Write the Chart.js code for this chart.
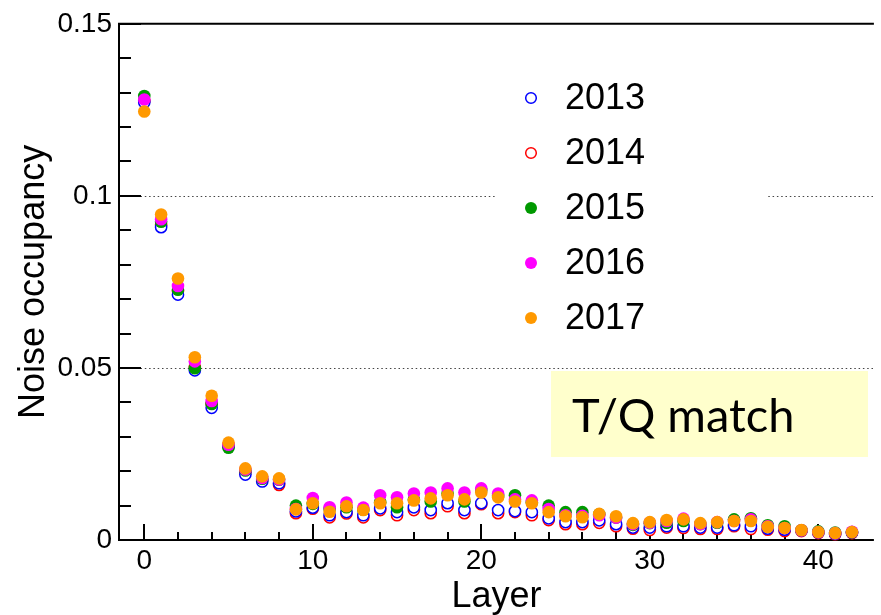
<!DOCTYPE html>
<html>
<head>
<meta charset="utf-8">
<title>Noise occupancy per layer</title>
<script src="https://cdn.jsdelivr.net/npm/chart.js@4/dist/chart.umd.min.js"></script>
<style>
  html, body { margin: 0; padding: 0; background: #ffffff; }
  #wrap { width: 881px; height: 615px; position: relative; }
</style>
</head>
<body>
<div id="wrap"><canvas id="chart" width="881" height="615"></canvas></div>
<script>
// Layer index (x axis)
const layers = [0,1,2,3,4,5,6,7,8,9,10,11,12,13,14,15,16,17,18,19,20,21,22,23,24,25,26,27,28,29,30,31,32,33,34,35,36,37,38,39,40,41,42];

// Noise occupancy per layer, one array per run year
const occ2013 = [0.1272,0.0909,0.0713,0.0493,0.0384,0.0272,0.0190,0.0170,0.0165,0.0083,0.0094,0.0072,0.0081,0.0072,0.0092,0.0081,0.0095,0.0087,0.0107,0.0087,0.0107,0.0087,0.0084,0.0081,0.0063,0.0052,0.0052,0.0057,0.0046,0.0036,0.0036,0.0040,0.0040,0.0036,0.0036,0.0043,0.0040,0.0033,0.0030,0.0028,0.0022,0.0018,0.0022];
const occ2014 = [0.1276,0.0915,0.0724,0.0502,0.0395,0.0275,0.0197,0.0174,0.0160,0.0078,0.0091,0.0066,0.0077,0.0066,0.0087,0.0072,0.0087,0.0078,0.0098,0.0078,0.0104,0.0078,0.0081,0.0072,0.0058,0.0046,0.0046,0.0050,0.0040,0.0033,0.0029,0.0036,0.0035,0.0032,0.0032,0.0040,0.0032,0.0030,0.0026,0.0026,0.0020,0.0017,0.0020];
const occ2015 = [0.1290,0.0925,0.0727,0.0499,0.0395,0.0268,0.0202,0.0178,0.0175,0.0100,0.0105,0.0090,0.0095,0.0088,0.0110,0.0095,0.0118,0.0112,0.0135,0.0112,0.0145,0.0128,0.0130,0.0110,0.0100,0.0081,0.0081,0.0075,0.0065,0.0044,0.0049,0.0050,0.0055,0.0046,0.0050,0.0060,0.0063,0.0043,0.0040,0.0028,0.0025,0.0022,0.0023];
const occ2016 = [0.1280,0.0932,0.0738,0.0519,0.0404,0.0277,0.0205,0.0180,0.0176,0.0090,0.0122,0.0095,0.0109,0.0094,0.0130,0.0124,0.0135,0.0138,0.0150,0.0138,0.0150,0.0135,0.0118,0.0115,0.0090,0.0072,0.0070,0.0072,0.0065,0.0046,0.0050,0.0055,0.0062,0.0046,0.0052,0.0055,0.0060,0.0040,0.0035,0.0028,0.0023,0.0020,0.0024];
const occ2017 = [0.1245,0.0946,0.0760,0.0531,0.0419,0.0283,0.0208,0.0185,0.0179,0.0089,0.0107,0.0082,0.0098,0.0087,0.0107,0.0107,0.0115,0.0121,0.0130,0.0118,0.0138,0.0124,0.0112,0.0107,0.0081,0.0069,0.0066,0.0076,0.0069,0.0049,0.0052,0.0058,0.0060,0.0049,0.0052,0.0055,0.0055,0.0038,0.0035,0.0029,0.0023,0.0020,0.0023];

// Series names
const years = ['2013', '2014', '2015', '2016', '2017'];

// Axis ticks and labels
const xTickValues = [0, 10, 20, 30, 40];
const xTickLabels = ['0', '10', '20', '30', '40'];
const yTickValues = [0, 0.05, 0.1, 0.15];
const yTickLabels = ['0', '0.05', '0.1', '0.15'];
const yGridValues = [0.05, 0.1];

// Annotation text
const boxText = 'T/Q match';

const FONT = '"Liberation Sans", Arial, Helvetica, sans-serif';

function pts(values) {
  return layers.map((l, i) => ({ x: l, y: values[i] }));
}

function openSeries(label, values, color, order) {
  return {
    label, data: pts(values), order,
    pointStyle: 'circle', pointRadius: 5.6, pointHoverRadius: 5.6,
    pointBorderWidth: 1.5, pointBorderColor: color, pointBackgroundColor: '#ffffff',
    borderColor: color, backgroundColor: '#ffffff', showLine: false, filled: false
  };
}
function solidSeries(label, values, color, order) {
  return {
    label, data: pts(values), order,
    pointStyle: 'circle', pointRadius: 6.3, pointHoverRadius: 6.3,
    pointBorderWidth: 0, pointBorderColor: color, pointBackgroundColor: color,
    borderColor: color, backgroundColor: color, showLine: false, filled: true
  };
}

const datasets = [
  openSeries(years[0], occ2013, '#0000ff', 3),
  openSeries(years[1], occ2014, '#ff0000', 4),
  solidSeries(years[2], occ2015, '#009900', 2),
  solidSeries(years[3], occ2016, '#ff00ff', 1),
  solidSeries(years[4], occ2017, '#ff9900', 0)
];

// Frame, inward tick marks, dotted grid, legend panel and annotation box
const framePlugin = {
  id: 'frame',
  beforeDatasetsDraw(chart) {
    const { ctx, chartArea: a, scales: { x, y } } = chart;
    ctx.save();

    // dotted horizontal grid
    ctx.strokeStyle = '#444444';
    ctx.lineWidth = 1.2;
    ctx.setLineDash([1.5, 2.8]);
    yGridValues.forEach(v => {
      const py = Math.round(y.getPixelForValue(v)) + 0.5;
      ctx.beginPath(); ctx.moveTo(a.left, py); ctx.lineTo(a.right, py); ctx.stroke();
    });
    ctx.setLineDash([]);

    // legend panel background
    ctx.fillStyle = '#ffffff';
    ctx.fillRect(496, 70, 272, 278);

    // annotation box
    ctx.fillStyle = '#ffffcc';
    ctx.fillRect(551, 371, 317, 86);
    ctx.fillStyle = '#000000';
    ctx.font = '47px Lato, "Open Sans", sans-serif';
    ctx.textAlign = 'left';
    ctx.textBaseline = 'alphabetic';
    ctx.fillText(boxText, 572, 432);

    // axis frame
    ctx.strokeStyle = '#000000';
    ctx.lineWidth = 2;
    ctx.beginPath();
    ctx.moveTo(a.right, a.top); ctx.lineTo(a.left, a.top);
    ctx.lineTo(a.left, a.bottom); ctx.lineTo(a.right, a.bottom);
    ctx.stroke();

    // y ticks: major every 0.05, minor every 0.01
    ctx.lineWidth = 2;
    for (let k = 0; k <= 15; k++) {
      const v = k / 100;
      const py = Math.round(y.getPixelForValue(v));
      const len = (k % 5 === 0) ? 22 : 12;
      ctx.beginPath(); ctx.moveTo(a.left, py); ctx.lineTo(a.left + len, py); ctx.stroke();
    }
    // x ticks: major every 10, minor every 2
    for (let l = 0; l <= 42; l += 2) {
      const px = Math.round(x.getPixelForValue(l));
      const len = (l % 10 === 0) ? 16 : 8;
      ctx.beginPath(); ctx.moveTo(px, a.bottom); ctx.lineTo(px, a.bottom - len); ctx.stroke();
    }
    ctx.restore();
  },
  afterDatasetsDraw(chart) {
    const { ctx } = chart;
    ctx.save();
    chart.data.datasets.forEach((ds, i) => {
      const cy = 98 + i * 55;
      ctx.beginPath();
      ctx.arc(531, cy, ds.filled ? 6 : 5.3, 0, Math.PI * 2);
      if (ds.filled) {
        ctx.fillStyle = ds.pointBackgroundColor; ctx.fill();
      } else {
        ctx.lineWidth = 1.5; ctx.strokeStyle = ds.pointBorderColor; ctx.stroke();
      }
      ctx.fillStyle = '#000000';
      ctx.font = '36px ' + FONT;
      ctx.textAlign = 'left';
      ctx.textBaseline = 'middle';
      ctx.fillText(ds.label, 565, cy + 1);
    });
    ctx.restore();
  }
};

new Chart(document.getElementById('chart'), {
  type: 'scatter',
  data: { datasets },
  options: {
    responsive: false,
    animation: false,
    devicePixelRatio: 1,
    clip: false,
    layout: { padding: { top: 20, right: 0, left: 0, bottom: 0 } },
    plugins: { legend: { display: false }, tooltip: { enabled: false } },
    scales: {
      x: {
        type: 'linear', min: -1.5, max: 43.3,
        grid: { display: false, drawTicks: false }, border: { display: false },
        afterBuildTicks: s => { s.ticks = xTickValues.map(v => ({ value: v })); },
        afterFit: s => { s.height = 75; },
        ticks: {
          color: '#000000', padding: 4, maxRotation: 0, autoSkip: false,
          font: { family: FONT, size: 28 },
          callback: (v, i) => xTickLabels[i]
        },
        title: {
          display: true, text: 'Layer', color: '#000000',
          font: { family: FONT, size: 36, lineHeight: 1 },
          padding: { top: 0, bottom: 0 }
        }
      },
      y: {
        type: 'linear', min: 0, max: 0.15,
        grid: { display: false, drawTicks: false }, border: { display: false },
        afterBuildTicks: s => { s.ticks = yTickValues.map(v => ({ value: v })); },
        afterFit: s => { s.width = 119; },
        ticks: {
          color: '#000000', padding: 7, autoSkip: false,
          font: { family: FONT, size: 28 },
          callback: (v, i) => yTickLabels[i]
        },
        title: {
          display: true, text: 'Noise occupancy', color: '#000000',
          font: { family: FONT, size: 36, lineHeight: 1 },
          padding: { top: 16, bottom: 0 }
        }
      }
    }
  },
  plugins: [framePlugin]
});
</script>
</body>
</html>
